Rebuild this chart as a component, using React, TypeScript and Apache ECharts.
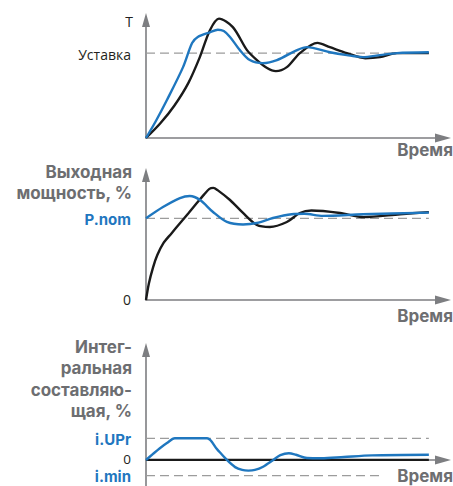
import React, { useEffect, useRef } from "react";
import * as echarts from "echarts";

// ---------- data (time units 0..100, values in % of reference level) ----------
const tempStandard: number[][] = [
  [0, 0], [5, 17], [10, 38], [15, 65], [19, 95], [22.6, 127], [25.8, 140.6], [30.7, 130.6],
  [35.7, 103.5], [39.2, 91.8], [42.8, 82.4], [45.9, 78.8], [49.8, 83.5], [54.4, 100],
  [60.6, 112], [65, 107], [71, 100], [77.5, 94], [82.7, 95.3], [88.7, 100], [100, 100],
];
const tempLimited: number[][] = [
  [0, 0], [3.5, 20], [7.4, 44.7], [13.1, 83.5], [16.3, 111.8], [18.3, 119], [22.6, 124.5],
  [25.4, 127.6], [27.5, 126], [29.7, 119], [33.2, 103.5], [36.7, 91.8], [41.3, 88.2],
  [46.3, 91.8], [53.4, 103.5], [56.9, 107], [65, 101], [71, 97.6], [76.7, 95.3],
  [82.7, 97.6], [88.7, 100], [100, 101],
];
const powerStandard: number[][] = [
  [0, 0], [1, 20], [2.5, 40], [4, 55], [6.1, 69.4], [9, 81.5], [12, 93.9], [15, 106.3],
  [17.9, 118.4], [20.5, 129], [22.4, 136], [23.8, 137.2], [25.3, 134.5], [29.7, 122.4],
  [34.3, 106.5], [39.2, 91.8], [43.8, 89.4], [49.8, 95.5], [54.4, 106.5], [58.5, 109.5],
  [68.6, 106.5], [77, 101.5], [89.8, 105], [100, 107.5],
];
const powerLimited: number[][] = [
  [0, 100], [6, 113.8], [12, 124.8], [15.5, 127.3], [19.1, 122.4], [23.7, 107.7],
  [28.6, 95.5], [34.3, 92.4], [39.2, 94.2], [44.9, 100.4], [51.5, 105], [56, 105.5],
  [62.5, 103], [76.7, 105], [100, 107],
];
const integralLimited: number[][] = [
  [0, 0], [2.5, 28], [4.9, 54], [7.4, 78], [10.2, 100], [21.6, 100], [25.1, 50],
  [28.6, 0], [31.5, -33], [34, -46], [36.2, -49], [38.5, -46], [41.4, -31], [45, 0],
  [47.5, 22], [50.5, 31], [53, 24], [56.9, 9], [62, 8], [70, 14], [80, 21], [100, 24],
];

const timeEnd = 100;
const axisTimeMax = 105;
const setpointLevel = 100;
const pNomLevel = 100;
const iUprLevel = 100;
const iMinLevel = -72;
const iMinEnd = 84;
const zeroLevel = 0;

const tempRange = [0, 139];
const powerRange = [0, 153];
const integralRange = [-120, 507];

// ---------- styles ----------
const BLUE = "#1f77bf";
const BLACK = "#1a1a1a";
const GREY_TEXT = "#6d6e71";
const AXIS_GREY = "#7d7e81";
const DASH_GREY = "#9c9c9c";
const FONT_BOLD = "Inter, 'Open Sans', sans-serif";
const FONT_PLAIN = "'Open Sans', 'DejaVu Sans', sans-serif";

const App: React.FC = () => {
  const ref = useRef<HTMLDivElement>(null);

  useEffect(() => {
    if (!ref.current) return;
    const chart = echarts.init(ref.current, undefined, { renderer: "svg" });

    const axisLine = (size: number[]) => ({
      show: true,
      onZero: true,
      symbol: ["none", "triangle"],
      symbolSize: size,
      lineStyle: { color: AXIS_GREY, width: 1.6 },
    });

    const xAxes = [0, 1, 2].map((i) => ({
      type: "value",
      gridIndex: i,
      min: 0,
      max: axisTimeMax,
      axisLine: axisLine([9, 16]),
      axisTick: { show: false },
      axisLabel: { show: false },
      splitLine: { show: false },
    }));
    const ranges = [tempRange, powerRange, integralRange];
    const yAxes = [0, 1, 2].map((i) => ({
      type: "value",
      gridIndex: i,
      min: ranges[i][0],
      max: ranges[i][1],
      axisLine: axisLine([8, 14]),
      axisTick: { show: false },
      axisLabel: { show: false },
      splitLine: { show: false },
    }));

    const curve = (data: number[][], idx: number, color: string, z = 3, smooth: number | boolean = 0.3) => ({
      type: "line",
      xAxisIndex: idx,
      yAxisIndex: idx,
      data,
      smooth,
      showSymbol: false,
      symbol: "none",
      clip: false,
      z,
      lineStyle: { color, width: 2.4 },
      silent: true,
    });
    const dashed = (level: number, idx: number, end = timeEnd) => ({
      type: "line",
      xAxisIndex: idx,
      yAxisIndex: idx,
      data: [[0, level], [end, level]],
      showSymbol: false,
      symbol: "none",
      z: 2,
      lineStyle: { color: DASH_GREY, width: 1.3, type: [9, 5] },
      silent: true,
    });

    const txt = (
      text: string, x: number, y: number, size: number, color: string,
      bold = true, lineHeight: number = size
    ) => ({
      type: "text",
      x,
      y,
      z: 10,
      silent: true,
      style: {
        text,
        fill: color,
        fontSize: size,
        fontWeight: bold ? "bold" : "normal",
        fontFamily: bold ? FONT_BOLD : FONT_PLAIN,
        lineHeight,
        align: "right",
        verticalAlign: "middle",
      },
    });

    chart.setOption({
      animation: false,
      backgroundColor: "#ffffff",
      grid: [
        { left: 146, right: 10, top: 20, bottom: 348 },
        { left: 146, right: 10, top: 175, bottom: 186 },
        { left: 146, right: 10, top: 350, bottom: 0 },
      ],
      xAxis: xAxes,
      yAxis: yAxes,
      series: [
        dashed(setpointLevel, 0),
        curve(tempStandard, 0, BLACK),
        curve(tempLimited, 0, BLUE, 4),
        dashed(pNomLevel, 1),
        curve(powerStandard, 1, BLACK),
        curve(powerLimited, 1, BLUE, 4),
        dashed(iUprLevel, 2),
        dashed(iMinLevel, 2, iMinEnd),
        {
          type: "line",
          xAxisIndex: 2,
          yAxisIndex: 2,
          data: [[0, zeroLevel], [timeEnd, zeroLevel]],
          showSymbol: false,
          symbol: "none",
          z: 3,
          lineStyle: { color: BLACK, width: 2.2 },
          silent: true,
        },
        curve(integralLimited, 2, BLUE, 4, 0.3),
      ],
      graphic: [
        txt("T", 133, 21, 14, "#231f20", false),
        txt("Уставка", 131, 54, 14, "#231f20", false),
        txt("Время", 453, 149.5, 17, GREY_TEXT),
        txt("Выходная", 132, 172, 17, GREY_TEXT),
        txt("мощность, %", 132, 192.8, 17, GREY_TEXT),
        txt("P.nom", 131, 219, 15, BLUE),
        txt("0", 131, 299, 14, "#231f20", false),
        txt("Время", 453, 316, 17, GREY_TEXT),
        txt("Интег-", 132, 347, 17, GREY_TEXT),
        txt("ральная", 132, 368.3, 17, GREY_TEXT),
        txt("составляю-", 132, 389.6, 17, GREY_TEXT),
        txt("щая, %", 132, 410.9, 17, GREY_TEXT),
        txt("i.UPr", 131, 439, 15, BLUE),
        txt("0", 131, 458.6, 13.5, "#231f20", false),
        txt("i.min", 131, 476.8, 15, BLUE),
        txt("Время", 453, 475.5, 17, GREY_TEXT),
      ],
    });

    return () => chart.dispose();
  }, []);

  return (
    <div
      ref={ref}
      style={{ position: "fixed", left: 0, top: 0, width: 453, height: 486 }}
    />
  );
};

export default App;
